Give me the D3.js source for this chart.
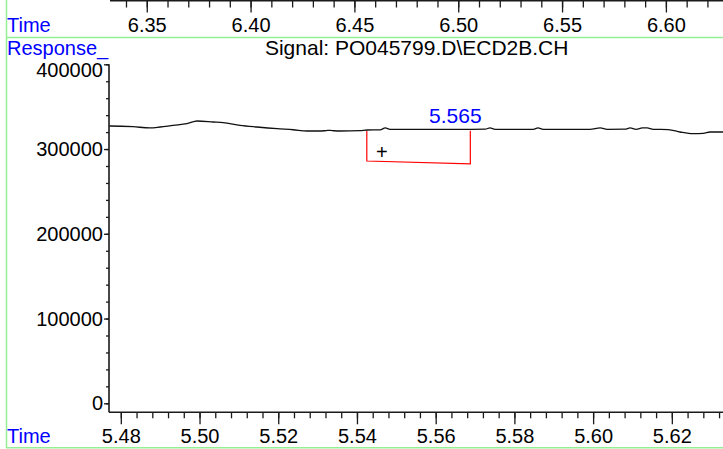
<!DOCTYPE html>
<html>
<head>
<meta charset="utf-8">
<script src="https://cdn.jsdelivr.net/npm/d3@7"></script>
<style>
  html, body { margin: 0; padding: 0; background: #fff; }
  svg { display: block; font-family: "Liberation Sans", Arial, sans-serif; }
</style>
</head>
<body>
<svg id="chart" width="723" height="449"></svg>
<script>
// ---- data ----
const traceTime = [5.4771, 5.4773, 5.4831, 5.4874, 5.4900, 5.4933, 5.4968, 5.4994, 5.5035, 5.5060, 5.5103,
  5.5146, 5.5197, 5.5238, 5.5273, 5.5306, 5.5322, 5.5332, 5.5342, 5.5357, 5.5408, 5.5426, 5.5459,
  5.5472, 5.5484, 5.5560, 5.5662, 5.5726, 5.5738, 5.5751, 5.5848, 5.5860, 5.5873, 5.5992, 5.6018,
  5.6036, 5.6081, 5.6094, 5.6109, 5.6125, 5.6137, 5.6153, 5.6191, 5.6221, 5.6254, 5.6280, 5.6297, 5.6330];
const traceResp = [327200, 327200, 326400, 324900, 326000, 328000, 329900, 333100, 331900, 331100, 328000,
  326000, 324000, 322800, 321300, 321300, 321800, 322100, 321600, 321300, 321800, 322500, 322700,
  325000, 323300, 323300, 323300, 323400, 325100, 323300, 323300, 325100, 323300, 323300, 325100,
  323300, 323400, 325000, 323300, 324900, 325100, 323300, 323000, 320100, 318100, 318400, 320100, 320100];

const bottomTicks = [5.48, 5.50, 5.52, 5.54, 5.56, 5.58, 5.60, 5.62];
const topTicks = [6.35, 6.40, 6.45, 6.50, 6.55, 6.60];
const yTicks = [0, 100000, 200000, 300000, 400000];

const peakRT = 5.565;
const peakTimes = [5.5425, 5.5688];      // integration start / end
const peakSignal = [321300, 321700];     // signal at start / end
const peakBase = [285900, 282400];       // baseline at start / end
const cursorPoint = [5.5463, 296900];

const titleText = "Signal: PO045799.D\\ECD2B.CH";

// ---- scales ----
const x = d3.scaleLinear().domain([5.4770, 5.6330]).range([109, 723]);
const y = d3.scaleLinear().domain([0, 400000]).range([403.3, 64.3]);
const xTop = d3.scaleLinear().domain([6.3323, 6.6275]).range([110, 723]);

const svg = d3.select("#chart");
const FS = 20;
const axisColor = "#1a1a1a";
const green = "#95f095";
const blue = "#0000ff";

// green frame
svg.append("line").attr("x1", 6.5).attr("x2", 6.5).attr("y1", 0).attr("y2", 448)
  .attr("stroke", green).attr("stroke-width", 1.5);
svg.append("line").attr("x1", 6).attr("x2", 723).attr("y1", 37.5).attr("y2", 37.5)
  .attr("stroke", green).attr("stroke-width", 1.5);
svg.append("line").attr("x1", 6).attr("x2", 723).attr("y1", 447.8).attr("y2", 447.8)
  .attr("stroke", green).attr("stroke-width", 1.5);

function styleAxis(g) {
  g.select(".domain").remove();
  g.selectAll("line").attr("stroke", axisColor).attr("stroke-width", 1.3);
  g.selectAll("text").attr("fill", "#000").style("font-size", FS + "px")
    .style("font-family", '"Liberation Sans", Arial, sans-serif');
}

// ---- top overview axis ----
const topMinor = d3.range(6.33, 6.63, 0.01).filter(v => v >= 6.332 && v <= 6.628);
const gTopMinor = svg.append("g").attr("transform", "translate(0,0.5)")
  .call(d3.axisBottom(xTop).tickValues(topMinor).tickSize(7).tickFormat(""));
styleAxis(gTopMinor);
const gTop = svg.append("g").attr("transform", "translate(0,0.5)")
  .call(d3.axisBottom(xTop).tickValues(topTicks).tickSize(12).tickFormat(d3.format(".2f")));
styleAxis(gTop);
gTop.selectAll("text").attr("y", 31.5).attr("dy", 0);
svg.append("line").attr("x1", xTop.range()[0]).attr("x2", 723).attr("y1", 0.8).attr("y2", 0.8)
  .attr("stroke", axisColor).attr("stroke-width", 1.6);
svg.append("text").attr("x", 7).attr("y", 32).attr("fill", blue)
  .style("font-size", FS + "px").text("Time");

// ---- main axes ----
const axisY0 = 412.3;
const bottomMinor = d3.range(0, 40).map(i => 5.476 + i * 0.004).filter(v => v >= 5.4772 && v <= 5.6328);
const gBMinor = svg.append("g").attr("transform", `translate(0,${axisY0})`)
  .call(d3.axisBottom(x).tickValues(bottomMinor).tickSize(6).tickFormat(""));
styleAxis(gBMinor);
const gB = svg.append("g").attr("transform", `translate(0,${axisY0})`)
  .call(d3.axisBottom(x).tickValues(bottomTicks).tickSize(12).tickFormat(d3.format(".2f")));
styleAxis(gB);
gB.selectAll("text").attr("y", 30.7).attr("dy", 0);
svg.append("line").attr("x1", x.range()[0]).attr("x2", 723).attr("y1", axisY0).attr("y2", axisY0)
  .attr("stroke", axisColor).attr("stroke-width", 1.6);
svg.append("text").attr("x", 7).attr("y", 443).attr("fill", blue)
  .style("font-size", FS + "px").text("Time");

const yMinor = d3.range(0, 400001, 20000);
const gYMinor = svg.append("g").attr("transform", `translate(${x.range()[0]},0)`)
  .call(d3.axisLeft(y).tickValues(yMinor).tickSize(3).tickFormat(""));
styleAxis(gYMinor);
const gY = svg.append("g").attr("transform", `translate(${x.range()[0]},0)`)
  .call(d3.axisLeft(y).tickValues(yTicks).tickSize(5).tickFormat(d3.format("d")));
styleAxis(gY);
gY.selectAll("text").attr("x", -6).attr("dy", "0.33em")
  .attr("transform", d => d === 400000 ? "translate(0,5.5)" : null);
svg.append("line").attr("x1", x.range()[0]).attr("x2", x.range()[0])
  .attr("y1", y(400000)).attr("y2", axisY0)
  .attr("stroke", axisColor).attr("stroke-width", 1.6);

svg.append("text").attr("x", 7).attr("y", 54.5).attr("fill", blue)
  .style("font-size", FS + "px").text("Response_");

// title
svg.append("text").attr("x", 416.7).attr("y", 55.3).attr("text-anchor", "middle")
  .attr("fill", "#000").style("font-size", "21px").text(titleText);

// ---- trace ----
const pts = traceTime.map((t, i) => [t, traceResp[i]]);
svg.append("path").datum(pts)
  .attr("fill", "none").attr("stroke", "#111").attr("stroke-width", 1.3)
  .attr("d", d3.line().x(d => x(d[0])).y(d => y(d[1])).curve(d3.curveMonotoneX));

// ---- peak integration ----
const peakPoly = [
  [peakTimes[0], peakSignal[0]],
  [peakTimes[0], peakBase[0]],
  [peakTimes[1], peakBase[1]],
  [peakTimes[1], peakSignal[1]]
];
svg.append("path").datum(peakPoly)
  .attr("fill", "none").attr("stroke", "#ff0000").attr("stroke-width", 1.2)
  .attr("d", d3.line().x(d => x(d[0])).y(d => y(d[1])));

svg.append("text").attr("x", x(peakRT)).attr("y", y(323300) - 6)
  .attr("text-anchor", "middle").attr("fill", blue)
  .style("font-size", "21px").text(peakRT.toFixed(3));

svg.append("text").attr("x", x(cursorPoint[0])).attr("y", y(cursorPoint[1]))
  .attr("text-anchor", "middle").attr("dy", "0.35em").attr("fill", "#000")
  .style("font-size", FS + "px").text("+");
</script>
</body>
</html>
